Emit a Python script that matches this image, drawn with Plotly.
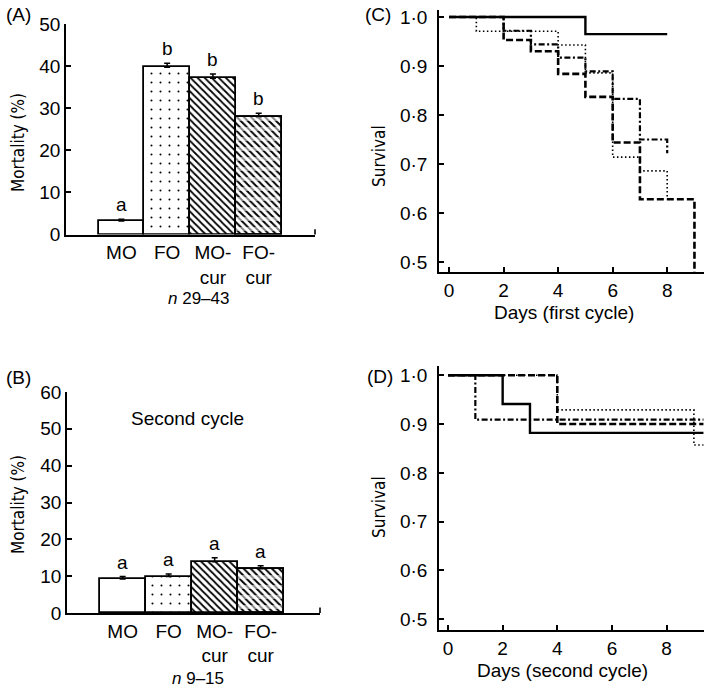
import plotly.graph_objects as go

W, H = 714, 690
FONT = "Liberation Sans, Arial, sans-serif"
NARROW = "Liberation Sans Narrow, DejaVu Sans Condensed, Arial Narrow, Liberation Sans, sans-serif"

# ---------------- data ----------------
categories = ["MO", "FO", "MO-cur", "FO-cur"]
cat_labels = ["MO", "FO", "MO-<br>cur", "FO-<br>cur"]

mort_first = [3.2, 39.7, 37.1, 27.8]
mort_first_err = [0.4, 1.0, 1.0, 1.0]
letters_first = ["a", "b", "b", "b"]

mort_second = [9.2, 9.9, 13.9, 12.0]
mort_second_err = [0.7, 0.7, 1.1, 0.8]
letters_second = ["a", "a", "a", "a"]

# Kaplan-Meier, first cycle
c_solid_days = [0, 5, 8]
c_solid_surv = [1.0, 0.965, 0.965]
c_dot_days = [0, 1, 4, 5, 6, 7, 8]
c_dot_surv = [1.0, 0.971, 0.943, 0.886, 0.714, 0.686, 0.629]
c_dashdot_days = [0, 2, 3, 4, 5, 6, 7, 8]
c_dashdot_surv = [1.0, 0.972, 0.944, 0.917, 0.889, 0.833, 0.750, 0.722]
c_dash_days = [0, 2, 3, 4, 5, 6, 7, 9]
c_dash_surv = [1.0, 0.953, 0.930, 0.884, 0.837, 0.744, 0.628, 0.465]

# Kaplan-Meier, second cycle
d_solid_days = [0, 2, 3, 9.35]
d_solid_surv = [1.0, 0.941, 0.882, 0.882]
d_dash_days = [0, 4, 9.35]
d_dash_surv = [1.0, 0.900, 0.900]
d_dashdot_days = [0, 1, 9.35]
d_dashdot_surv = [1.0, 0.909, 0.909]
d_dot_days = [0, 4, 9, 9.35]
d_dot_surv = [1.0, 0.929, 0.857, 0.857]

surv_ticks = [0.5, 0.6, 0.7, 0.8, 0.9, 1.0]
surv_ticktext = ["0·5", "0·6", "0·7", "0·8", "0·9", "1·0"]
day_ticks = [0, 2, 4, 6, 8]

# ---------------- helpers ----------------
def px_x(p):
    return p / W

def px_y(p):
    return 1 - p / H

patterns = ["", ".", "\\", "\\"]
pat_size = [8, 9, 5, 5]
pat_sol = [0.2, 0.04, 0.35, 0.4]

fig = go.Figure()

def add_bars(xa, ya, vals, errs):
    fig.add_trace(go.Bar(
        x=categories, y=vals, xaxis=xa, yaxis=ya,
        marker=dict(color="white", line=dict(color="black", width=1.8),
                    pattern=dict(shape=patterns, size=pat_size, solidity=pat_sol,
                                 fgcolor="black", bgcolor="white", fillmode="replace")),
        error_y=dict(type="data", symmetric=False, array=errs,
                     arrayminus=[0] * len(errs), color="black", thickness=1.5, width=3),
        showlegend=False, hoverinfo="skip"))
    # white bands that break the FO-cur hatching into rows
    fig.add_trace(go.Bar(
        x=categories[3:], y=vals[3:], xaxis=xa, yaxis=ya,
        marker=dict(color="rgba(0,0,0,0)", line=dict(width=0),
                    pattern=dict(shape="-", size=10, solidity=0.4,
                                 fgcolor="white", bgcolor="rgba(0,0,0,0)", fillmode="overlay")),
        showlegend=False, hoverinfo="skip"))
    fig.add_trace(go.Bar(
        x=categories[3:], y=vals[3:], xaxis=xa, yaxis=ya,
        marker=dict(color="rgba(0,0,0,0)", line=dict(color="black", width=1.8)),
        showlegend=False, hoverinfo="skip"))

add_bars("x", "y", mort_first, mort_first_err)
add_bars("x2", "y2", mort_second, mort_second_err)

def add_line(xa, ya, days, surv, dash, width):
    fig.add_trace(go.Scatter(
        x=days, y=surv, xaxis=xa, yaxis=ya, mode="lines", line_shape="hv",
        line=dict(color="black", width=width, dash=dash),
        showlegend=False, hoverinfo="skip"))

DOT = "1.5px,2.5px"
DASH = "7px,3px"
DASHDOT = "6px,2.5px,2px,2.5px"

add_line("x3", "y3", c_dot_days, c_dot_surv, DOT, 1.6)
add_line("x3", "y3", c_dashdot_days, c_dashdot_surv, DASHDOT, 2.2)
add_line("x3", "y3", c_dash_days, c_dash_surv, DASH, 2.6)
add_line("x3", "y3", c_solid_days, c_solid_surv, "solid", 2.4)

add_line("x4", "y4", d_dot_days, d_dot_surv, DOT, 1.6)
add_line("x4", "y4", d_dashdot_days, d_dashdot_surv, DASHDOT, 2.2)
add_line("x4", "y4", d_dash_days, d_dash_surv, DASH, 2.6)
add_line("x4", "y4", d_solid_days, d_solid_surv, "solid", 2.4)

TICKFONT = dict(family=FONT, size=19, color="black")
axis_common = dict(showline=True, linecolor="black", linewidth=1.6, showgrid=False,
                   zeroline=False, ticks="inside", ticklen=5, tickwidth=1.5,
                   tickcolor="black", tickfont=TICKFONT, automargin=False)

layout = dict(
    width=W, height=H, autosize=False,
    margin=dict(l=0, r=0, t=0, b=0, pad=0),
    paper_bgcolor="white", plot_bgcolor="white",
    barmode="overlay", bargap=0,
    font=dict(family=FONT, size=19, color="black"),
    xaxis=dict(axis_common, domain=[px_x(66), px_x(315)], anchor="y",
               range=[-1.21, 4.23], ticks="", type="category",
               tickvals=categories, ticktext=cat_labels, ticklabelstandoff=0),
    yaxis=dict(axis_common, domain=[px_y(234.5), px_y(24)], anchor="x",
               range=[0, 50], tickvals=[0, 10, 20, 30, 40, 50]),
    xaxis2=dict(axis_common, domain=[px_x(67), px_x(320)], anchor="y2",
                range=[-1.21, 4.29], ticks="", type="category",
                tickvals=categories, ticktext=cat_labels, ticklabelstandoff=0),
    yaxis2=dict(axis_common, domain=[px_y(613), px_y(392)], anchor="x2",
                range=[0, 60], tickvals=[0, 10, 20, 30, 40, 50, 60]),
    xaxis3=dict(axis_common, domain=[px_x(439), px_x(704)], anchor="y3",
                range=[-0.37, 9.35], tickvals=day_ticks),
    yaxis3=dict(axis_common, domain=[px_y(272), px_y(10)], anchor="x3",
                range=[0.4796, 1.0143], tickvals=surv_ticks, ticktext=surv_ticktext,
                ticklabelstandoff=6),
    xaxis4=dict(axis_common, domain=[px_x(439), px_x(704)], anchor="y4",
                range=[-0.33, 9.37], tickvals=day_ticks),
    yaxis4=dict(axis_common, domain=[px_y(630), px_y(366)], anchor="x4",
                range=[0.478, 1.019], tickvals=surv_ticks, ticktext=surv_ticktext,
                ticklabelstandoff=6),
)
fig.update_layout(**layout)

ann = []
def text(x, y, s, size=19, angle=0, xanchor="center", yanchor="middle", family=FONT):
    ann.append(dict(x=px_x(x), y=px_y(y), xref="paper", yref="paper", text=s,
                    showarrow=False, textangle=angle, xanchor=xanchor, yanchor=yanchor,
                    font=dict(family=family, size=size, color="black")))

text(4, 15, "(A)", 19, xanchor="left")
text(4, 377, "(B)", 19, xanchor="left")
text(363, 15, "(C)", 19, xanchor="left")
text(365, 376, "(D)", 19, xanchor="left")
text(18, 143, "Mortality (%)", 17, angle=-90, family=NARROW)
text(18, 505, "Mortality (%)", 17, angle=-90, family=NARROW)
text(379, 156, "Survival", 17, angle=-90, family=NARROW)
text(379, 507, "Survival", 17, angle=-90, family=NARROW)
text(198, 298, "<i>n</i> 29–43", 17)
text(198, 678, "<i>n</i> 9–15", 17)
text(187, 418, "Second cycle", 19)
text(564, 312, "Days (first cycle)", 19)
text(562, 670, "Days (second cycle)", 19)

for xa, ya, vals, errs, lets in [("x", "y", mort_first, mort_first_err, letters_first),
                                  ("x2", "y2", mort_second, mort_second_err, letters_second)]:
    for c, v, e, l in zip(categories, vals, errs, lets):
        ann.append(dict(x=c, y=v + e, xref=xa, yref=ya, text=l, showarrow=False,
                        yanchor="bottom", yshift=2,
                        font=dict(family=FONT, size=19, color="black")))

fig.update_layout(annotations=ann)

shapes = []
for xa, ya in [("x", "y"), ("x2", "y2")]:
    shapes.append(dict(type="line", xref=f"{xa} domain", yref=f"{ya} domain",
                       x0=1, x1=1, y0=0, y1=0.025, line=dict(color="black", width=1.6)))
fig.update_layout(shapes=shapes)

fig.write_html("out.html", config={"displayModeBar": False},
               post_script="document.body.style.margin='0px';document.body.style.padding='0px';")
